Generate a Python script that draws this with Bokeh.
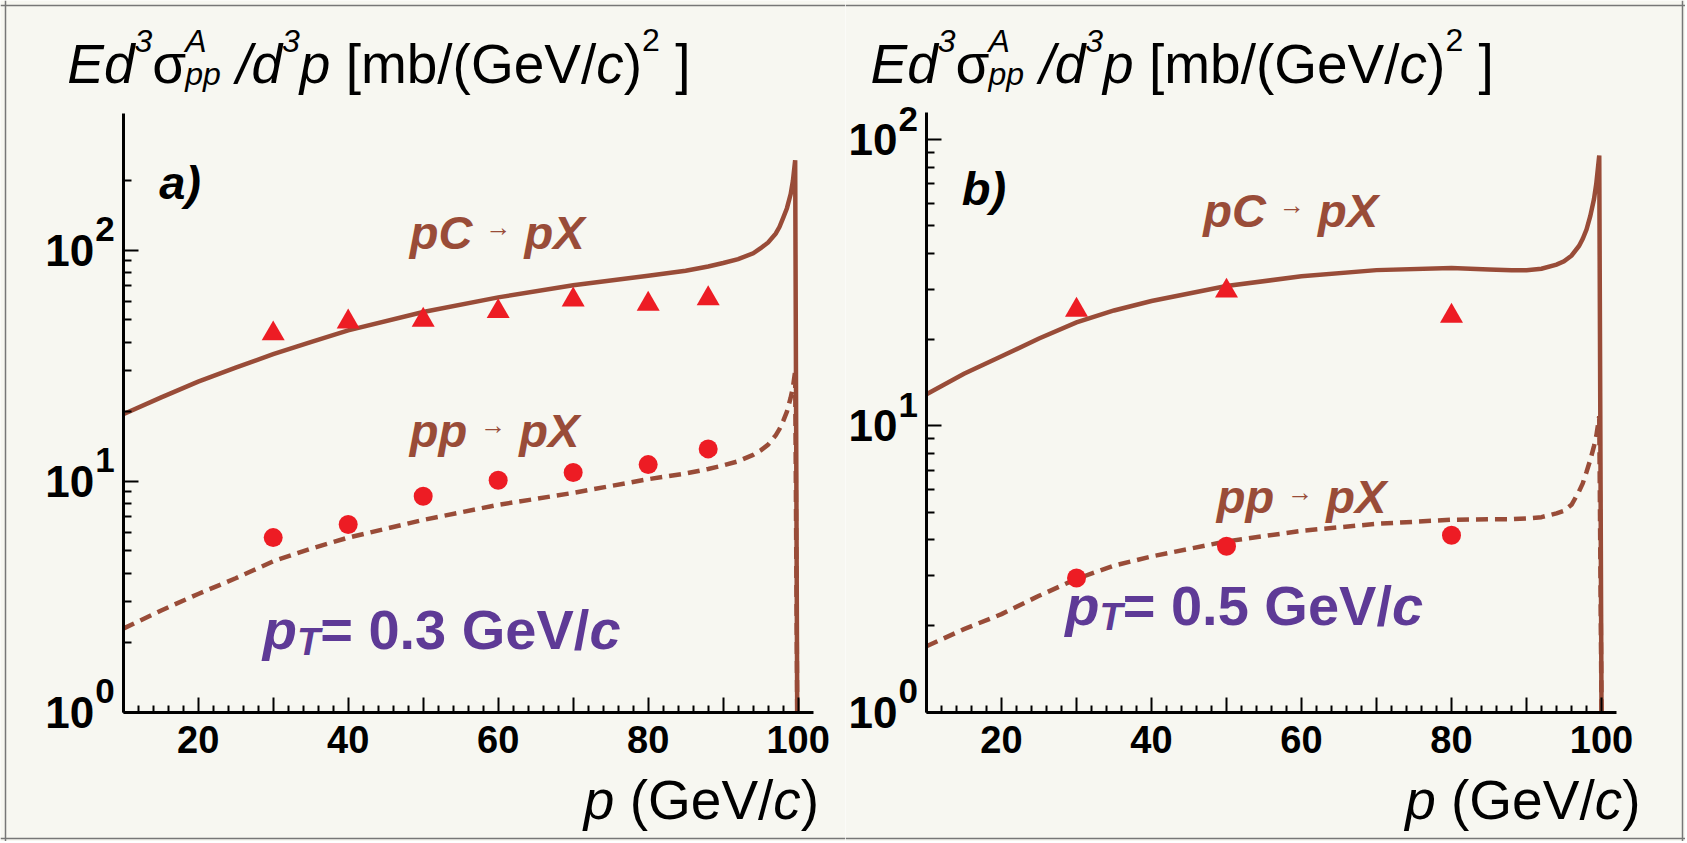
from bokeh.plotting import figure
from bokeh.models import Label, FixedTicker, Range1d, LinearAxis, LogAxis, Span
from bokeh.layouts import row
from bokeh.embed import file_html
from bokeh.resources import INLINE

# ---------------- data ----------------
# panel a)  pT = 0.3 GeV/c
p_data_a = [30, 40, 50, 60, 70, 80, 88]
pC_data_a = [43.5, 49.0, 49.8, 54.3, 61.0, 58.5, 61.8]
pp_data_a = [5.7, 6.5, 8.6, 10.1, 10.9, 11.8, 13.8]

p_curve_a = [10, 15, 20, 25, 30, 35, 40, 50, 60, 70, 80, 85, 88, 90, 92, 94, 95, 96,
             97, 97.5, 98, 98.5, 99, 99.3, 99.6, 99.87]
pC_curve_a = [19.5, 23, 27, 31, 35.5, 40, 45, 54, 62.5, 70.5, 77.5, 81.5, 85, 88,
              91.5, 97, 102, 108, 118, 126, 138, 152, 175, 200, 245, 1.0]
pp_curve_a = [2.3, 2.75, 3.25, 3.8, 4.5, 5.1, 5.7, 6.8, 7.9, 8.9, 10.2, 10.8, 11.3, 11.7,
              12.2, 13.0, 13.6, 14.4, 15.8, 16.8, 18.2, 20.0, 23.0, 25.5, 30, 1.0]

# panel b)  pT = 0.5 GeV/c
p_data_b = [30, 50, 80]
pC_data_b = [25.4, 29.6, 24.2]
pp_data_b = [2.94, 3.8, 4.15]

p_curve_b = [10, 15, 20, 25, 30, 35, 40, 50, 60, 70, 80, 85, 88, 90, 92, 94, 95, 96,
             97, 97.5, 98, 98.5, 99, 99.3, 99.7, 100.0]
pC_curve_b = [12.9, 15.2, 17.5, 20.2, 23.0, 25.3, 27.3, 30.8, 33.3, 35.0, 35.6, 35.2, 35.0,
              35.0, 35.4, 36.6, 37.6, 39.3, 42.5, 45, 48.5, 54, 62, 70, 88, 1.0]
pp_curve_b = [1.70, 1.95, 2.2, 2.55, 2.92, 3.25, 3.5, 3.95, 4.3, 4.55, 4.7, 4.72, 4.72, 4.75,
              4.8, 4.95, 5.05, 5.3, 5.9, 6.3, 6.9, 7.6, 8.5, 9.2, 10.8, 1.0]

x_major = [10, 20, 30, 40, 50, 60, 70, 80, 90, 100]
x_labels = {20: "20", 40: "40", 60: "60", 80: "80", 100: "100"}
x_minor = [v for v in range(12, 102, 2) if v % 10 != 0]
y_major = [1, 10, 100]
y_exp = ["0", "1", "2"]
y_minor_a = [2, 3, 4, 5, 6, 7, 8, 9, 20, 30, 40, 50, 60, 70, 80, 90, 200]
y_minor_b = [2, 3, 4, 5, 6, 7, 8, 9, 20, 30, 40, 50, 60, 70, 80, 90]

# ---------------- style ----------------
BG = "#f7f7f1"
BROWN = "#994c38"
RED = "#ed1c24"
PURPLE = "#5e3a96"
SANS = "Liberation Sans"

WID = {' ': .278, '/': .278, '[': .278, ']': .278, '(': .333, ')': .333, 'm': .833,
       'b': .556, 'G': .778, 'e': .556, 'V': .667, 'c': .5, 'E': .667, 'd': .556,
       'p': .556, 'A': .667, 'σ': .6, '=': .584, '.': .278, 'T': .611, 'C': .722,
       'X': .667, 'a': .556, '→': 1.0}
WIDB = dict(WID, p=.611, c=.556, b=.611, d=.611)


def tw(text, size, style):
    tab = WIDB if "bold" in style else WID
    return sum(tab.get(ch, .556) for ch in text) * size


def rich(p, runs, x, y, xo=0, yo=0, align="left", color="black"):
    total = sum(tw(r["t"], r["s"], r.get("st", "normal")) for r in runs if r.get("adv", True))
    off = xo - total if align == "right" else xo
    for r in runs:
        st = r.get("st", "normal")
        t = r["t"]
        lead = len(t) - len(t.lstrip(" "))
        p.add_layout(Label(x=x, y=y, x_offset=off + tw(" " * lead, r["s"], st),
                           y_offset=yo + r.get("dy", 0),
                           text=t.strip(" "), text_font=SANS, text_font_size=f"{r['s']}px",
                           text_font_style=st, text_color=color,
                           text_baseline="alphabetic", text_align="left"))
        if r.get("adv", True):
            off += tw(t, r["s"], st)


def title_runs(S):
    s = round(S * 0.58)
    return [
        dict(t="E", s=S, st="italic"),
        dict(t="d", s=S, st="italic"),
        dict(t="3", s=s, st="italic", dy=0.42 * S),
        dict(t="σ", s=S),
        dict(t="A", s=s, st="italic", dy=0.42 * S, adv=False),
        dict(t="pp", s=s, st="italic", dy=-0.17 * S),
        dict(t=" /d", s=S, st="italic"),
        dict(t="3", s=s, st="italic", dy=0.42 * S),
        dict(t="p", s=S, st="italic"),
        dict(t=" [mb/(GeV/", s=S),
        dict(t="c", s=S, st="italic"),
        dict(t=")", s=S),
        dict(t="2", s=s, dy=0.44 * S),
        dict(t=" ]", s=S),
    ]


def xlab_runs(S):
    return [dict(t="p", s=S, st="italic"),
            dict(t=" (GeV/", s=S),
            dict(t="c", s=S, st="italic"),
            dict(t=")", s=S)]


def reac_runs(a, S=47):
    return [dict(t=a + " ", s=S, st="bold italic"),
            dict(t="→", s=26, st="bold", dy=5),
            dict(t=" pX", s=S, st="bold italic")]


def pt_runs(val, S=56):
    return [dict(t="p", s=S, st="bold italic"),
            dict(t="T", s=round(S * 0.68), st="bold italic", dy=-12),
            dict(t=f"= {val} GeV/", s=S, st="bold"),
            dict(t="c", s=S, st="bold italic")]


def panel(width, height, xr, yr, ytop, y_minor, px, pC, pp, cx, cC, cp, tag, ptval,
          pos, xl_shift, border):
    p = figure(width=width, height=height, x_range=Range1d(*xr), y_range=Range1d(*yr),
               y_axis_type="log", x_axis_location=None, y_axis_location=None,
               output_backend="svg", toolbar_location=None,
               min_border_left=0, min_border_right=0, min_border_top=0, min_border_bottom=0,
               background_fill_color=BG, border_fill_color=BG, outline_line_color=None)
    p.grid.visible = False

    xa = LinearAxis(fixed_location=1, bounds=(10, 102),
                    ticker=FixedTicker(ticks=x_major, minor_ticks=x_minor))
    ya = LogAxis(fixed_location=10, bounds=(1, ytop),
                 ticker=FixedTicker(ticks=y_major, minor_ticks=y_minor))
    for ax in (xa, ya):
        ax.axis_line_width = 3
        ax.major_tick_line_width = 2
        ax.minor_tick_line_width = 2
        ax.major_tick_in = 15
        ax.major_tick_out = 0
        ax.minor_tick_in = 7
        ax.minor_tick_out = 0
        ax.major_label_overrides = {v: "" for v in ax.ticker.ticks}
        ax.major_label_text_font_size = "1px"
        ax.major_label_standoff = 0
    ya.minor_tick_in = 8
    p.add_layout(xa, "below")
    p.add_layout(ya, "left")

    p.line(cx, cC, line_color=BROWN, line_width=4.5, line_join="miter")
    p.line(cx, cp, line_color=BROWN, line_width=4.5, line_dash="12 7")
    p.scatter(px, pC, marker="triangle", size=23, fill_color=RED, line_color=None)
    p.scatter(px, pp, marker="circle", size=19, fill_color=RED, line_color=None)

    # x tick labels
    for t, lab in x_labels.items():
        p.add_layout(Label(x=t, y=1, y_offset=-14, text=lab, text_font=SANS,
                           text_font_style="bold", text_font_size="38px", text_color="black",
                           text_align="center", text_baseline="top"))
    # y tick labels 10^n
    for v, e in zip(y_major, y_exp):
        p.add_layout(Label(x=10, y=v, x_offset=-29, text="10", text_font=SANS,
                           text_font_style="bold", text_font_size="44px", text_color="black",
                           text_align="right", text_baseline="middle"))
        p.add_layout(Label(x=10, y=v, x_offset=-28, y_offset=21, text=e, text_font=SANS,
                           text_font_style="bold", text_font_size="35px", text_color="black",
                           text_align="left", text_baseline="middle"))

    # titles
    rich(p, title_runs(55), 10, 1, xo=-56, yo=648)
    rich(p, xlab_runs(55), 102, 1, xo=xl_shift, yo=-88, align="right")

    lift = 13
    p.add_layout(Label(x=pos["tag"][0], y=pos["tag"][1], y_offset=lift, text=tag,
                       text_font=SANS, text_font_style="bold italic", text_font_size="47px",
                       text_color="black", text_baseline="alphabetic"))
    rich(p, reac_runs("pC"), *pos["pC"], yo=lift, color=BROWN)
    rich(p, reac_runs("pp"), *pos["pp"], yo=lift, color=BROWN)
    rich(p, pt_runs(ptval), *pos["pt"], yo=lift + 4, color=PURPLE)

    # thin outer frame of the picture
    for loc, dim in border:
        p.add_layout(Span(location=loc, location_units="screen", dimension=dim,
                          line_color="#777777", line_width=1.5))
    return p


H = 841
pa = panel(845, H, (-6.36, 106.31), (0.2756, 1205.0), 392, y_minor_a,
           p_data_a, pC_data_a, pp_data_a, p_curve_a, pC_curve_a, pp_curve_a, "a)", "0.3",
           dict(tag=(14.8, 172), pC=(48.2, 105), pp=(48.2, 14.6), pt=(28.6, 1.92)), 6,
           [(5, "height"), (H - 5, "width"), (3, "width")])
pb = panel(840, H, (-0.8, 111.2), (0.3534, 306.1), 124, y_minor_b,
           p_data_b, pC_data_b, pp_data_b, p_curve_b, pC_curve_b, pp_curve_b, "b)", "0.5",
           dict(tag=(14.7, 61), pC=(46.9, 51), pp=(48.7, 5.1), pt=(28.5, 2.06)), 24,
           [(837, "height"), (H - 5, "width"), (3, "width")])

layout = row(pa, pb)
open("out.html", "w").write(file_html(layout, INLINE))
